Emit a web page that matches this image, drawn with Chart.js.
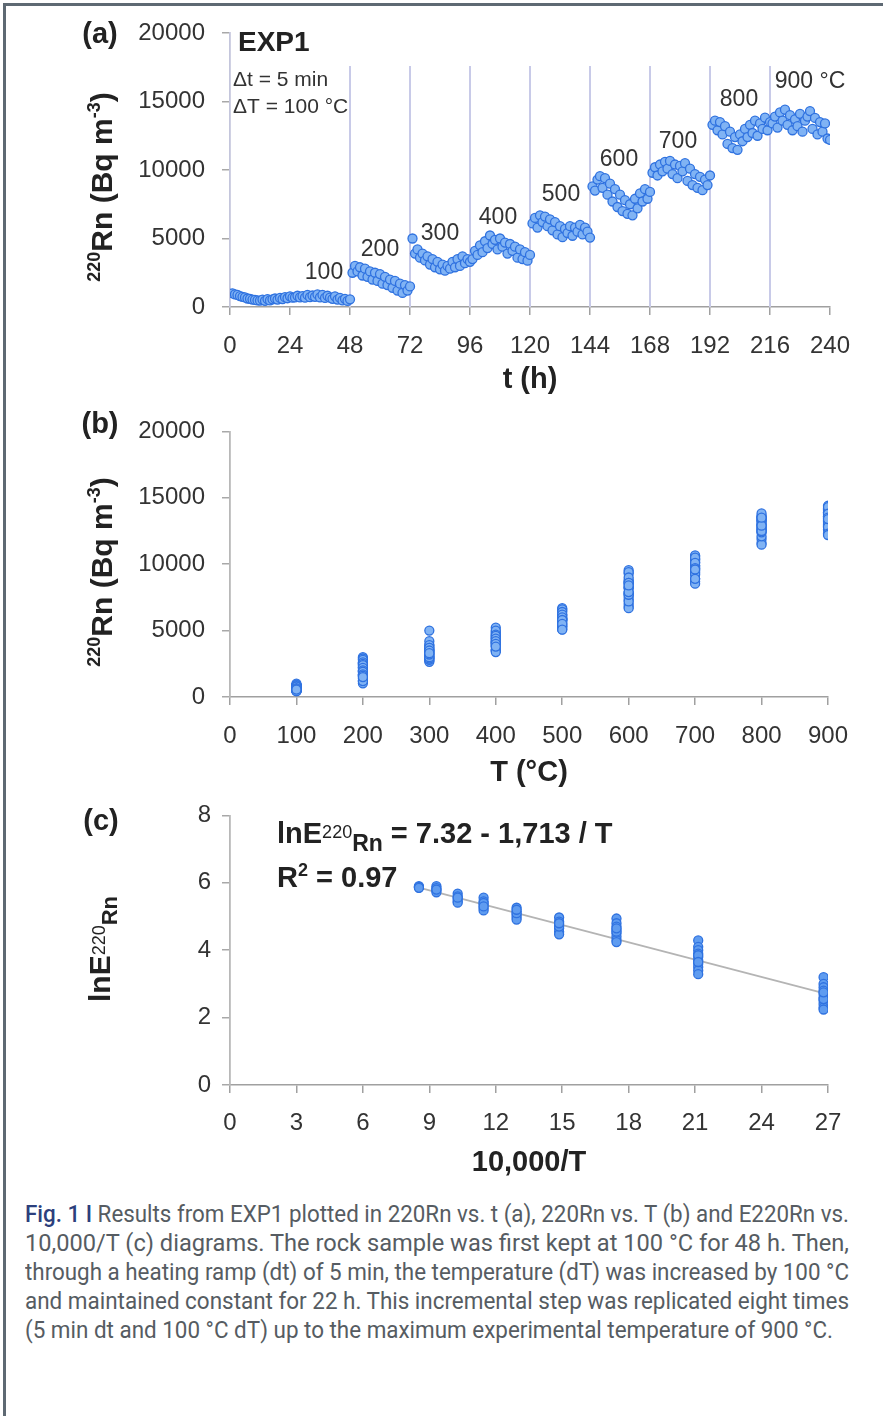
<!DOCTYPE html>
<html>
<head>
<meta charset="utf-8">
<script src="https://cdn.jsdelivr.net/npm/chart.js@4.4.1/dist/chart.umd.min.js"></script>
<style>
  html, body { margin: 0; padding: 0; background: #fff; }
  #page { position: relative; width: 883px; height: 1416px; overflow: hidden; background: #fff; }
  #frame { position: absolute; left: 3px; top: 3px; width: 900px; height: 1430px;
           border-left: 3px solid #5e6973; border-top: 3px solid #5e6973; }
  canvas { position: absolute; left: 0; }
  .cap { position: absolute; left: 25px; font: 24px Roboto, "Noto Sans", sans-serif; color: #565c62;
         white-space: nowrap; line-height: 29px; transform-origin: 0 50%; }
  .cap b { color: #2c3f7d; font-weight: 500; }
</style>
</head>
<body>
<div id="page">
  <div id="frame"></div>
  <canvas id="chartA" width="883" height="400" style="top:0"></canvas>
  <canvas id="chartB" width="883" height="390" style="top:400px"></canvas>
  <canvas id="chartC" width="883" height="400" style="top:790px"></canvas>

  <div class="cap" data-w="824" style="top:1200px"><b>Fig. 1 I</b> Results from EXP1 plotted in 220Rn vs. t (a), 220Rn vs. T (b) and E220Rn vs.</div>
  <div class="cap" data-w="824" style="top:1229px">10,000/T (c) diagrams. The rock sample was first kept at 100 °C for 48 h. Then,</div>
  <div class="cap" data-w="824" style="top:1258px">through a heating ramp (dt) of 5 min, the temperature (dT) was increased by 100 °C</div>
  <div class="cap" data-w="824" style="top:1287px">and maintained constant for 22 h. This incremental step was replicated eight times</div>
  <div class="cap" data-w="808" style="top:1316px">(5 min dt and 100 °C dT) up to the maximum experimental temperature of 900 °C.</div>
</div>

<script>
// heating steps of EXP1
const stepTemps = [100, 200, 300, 400, 500, 600, 700, 800, 900];   // °C
const stepStart = [0, 48, 72, 96, 120, 144, 168, 192, 216];         // h
const readingEvery = 1;                                             // h between readings

// 220Rn (Bq m-3), hourly readings of each step
const rn100 = [1000, 920, 880, 800, 740, 700, 620, 600, 540, 520, 480, 470, 540, 450, 580, 480,
               560, 620, 540, 660, 580, 720, 640, 780, 680, 700, 820, 700, 800, 680, 880, 720,
               840, 740, 920, 700, 880, 660, 820, 680, 600, 780, 540, 660, 480, 600, 440, 560];
const rn200 = [2500, 3000, 2600, 2900, 2300, 2800, 2200, 2600, 2000, 2500, 1900, 2400,
               1700, 2200, 1600, 2000, 1400, 1900, 1200, 1700, 1030, 1600, 1200, 1500];
const rn300 = [5000, 3900, 4200, 3600, 3900, 3400, 3700, 3100, 3500, 2900, 3300, 2750,
               3100, 2650, 3000, 2800, 3300, 2900, 3500, 3000, 3700, 3200, 3500, 3300];
const rn400 = [3500, 4100, 3800, 4500, 4000, 4800, 4300, 5220, 4600, 4900, 4200, 5000,
               4400, 4700, 3900, 4600, 4100, 4400, 3600, 4200, 3500, 4000, 3380, 3800];
const rn500 = [6100, 6500, 5800, 6690, 6200, 6600, 5900, 6400, 5600, 6200, 5300, 5900,
               5100, 5700, 5400, 5900, 5200, 5800, 5500, 6000, 5300, 5800, 5500, 5070];
const rn600 = [8800, 8500, 9300, 9550, 8700, 9400, 8200, 9000, 7700, 8600, 7300, 8200,
               7000, 7800, 6800, 7500, 6690, 7900, 7200, 8300, 7700, 8600, 7900, 8400];
const rn700 = [9800, 10200, 9600, 10400, 9900, 10600, 10100, 10660, 9700, 10400, 9400, 10300,
               9900, 10500, 9200, 10100, 8900, 9700, 8700, 9500, 8530, 9300, 8900, 9600];
const rn800 = [13300, 13600, 12900, 13500, 12600, 13200, 11900, 12800, 11600, 12400, 11470, 12600,
               12100, 13000, 12400, 13300, 12700, 13600, 12500, 13400, 13000, 13820, 12900, 13500];
const rn900 = [13400, 13900, 13100, 14200, 13600, 14400, 13300, 14000, 12900, 13700, 13200, 14100,
               12800, 13600, 13900, 14300, 13000, 13800, 12600, 13500, 12800, 13400, 12300, 12200];
const rnSteps = [rn100, rn200, rn300, rn400, rn500, rn600, rn700, rn800, rn900];

// 10,000/T (K) of each step and lnE220Rn
const invT = [26.80, 21.14, 17.45, 14.86, 12.94, 11.45, 10.28, 9.32, 8.53];
const lnE100 = [3.20, 3.00, 2.90, 2.80, 2.70, 2.60, 2.50, 2.40, 2.30, 2.24, 2.55, 2.75];
const lnE200 = [4.29, 4.10, 4.00, 3.90, 3.80, 3.70, 3.60, 3.50, 3.40, 3.29, 3.85, 3.65];
const lnE300 = [4.94, 4.80, 4.70, 4.60, 4.50, 4.40, 4.30, 4.24, 4.55, 4.65];
const lnE400 = [4.97, 4.85, 4.75, 4.65, 4.55, 4.47, 4.70, 4.80];
const lnE500 = [5.26, 5.15, 5.05, 4.98, 4.91, 5.10, 5.20];
const lnE600 = [5.56, 5.45, 5.35, 5.25, 5.18, 5.40, 5.30];
const lnE700 = [5.68, 5.60, 5.52, 5.45, 5.41, 5.56];
const lnE800 = [5.90, 5.84, 5.78, 5.72, 5.80];
const lnE900 = [5.90, 5.86, 5.88, 5.85];
const lnESteps = [lnE100, lnE200, lnE300, lnE400, lnE500, lnE600, lnE700, lnE800, lnE900];

// fitted line lnE = a - b / T
const fitA = 7.32;
const fitB = 1713;
const fitR2 = 0.97;

Chart.defaults.font.family = '"Liberation Sans", Arial, Helvetica, sans-serif';
Chart.defaults.color = '#333';

const seriesA = [], seriesB = [], seriesC = [];
rnSteps.forEach(function(vals, i) {
  vals.forEach(function(v, k) {
    seriesA.push({x: stepStart[i] + (k + 1) * readingEvery, y: v});
    seriesB.push({x: stepTemps[i], y: v});
  });
});
lnESteps.forEach(function(vals, i) {
  vals.forEach(function(v) { seriesC.push({x: invT[i], y: v}); });
});
const fitLine = [Math.min.apply(null, invT), Math.max.apply(null, invT)].map(function(x) {
  return {x: x, y: fitA - fitB / (10000 / x)};
});

const pointStyle = {
  pointRadius: 4.5,
  pointBorderWidth: 1.3,
  borderColor: '#2f72e0',
  backgroundColor: '#80b3f4',
  pointHoverRadius: 4.5
};

function xAxis(min, max, step, title, pad, height) {
  return {
    type: 'linear', min: min, max: max,
    ticks: {stepSize: step, padding: pad, color: '#333', font: {size: 24}, maxRotation: 0,
            autoSkip: false, callback: function(v) { return String(v); }},
    grid: {drawOnChartArea: false, drawTicks: true, tickLength: 8, color: '#a0a0a0', lineWidth: 1.5},
    border: {color: '#a0a0a0', width: 1.5},
    title: {display: true, text: title, color: '#222', font: {size: 29, weight: 'bold'}, padding: 0},
    afterFit: function(s) { s.height = height; }
  };
}

function yAxis(min, max, step, pad, lineColor) {
  return {
    type: 'linear', min: min, max: max,
    ticks: {stepSize: step, padding: pad, color: '#333', font: {size: 24},
            callback: function(v) { return String(v); }},
    grid: {drawOnChartArea: false, drawTicks: true, tickLength: 8, color: '#a8a8a8', lineWidth: 1.5},
    border: {color: lineColor, width: 1.8},
    afterFit: function(s) { s.width = 230; }
  };
}

// text run helper: parts are [text, font, baseline shift]
function runWidth(ctx, parts) {
  let w = 0;
  parts.forEach(function(p) { ctx.font = p[1]; w += ctx.measureText(p[0]).width; });
  return w;
}
function drawRun(ctx, parts, x, y) {
  ctx.textBaseline = 'alphabetic';
  ctx.textAlign = 'left';
  parts.forEach(function(p) {
    ctx.font = p[1];
    ctx.fillText(p[0], x, y + p[2]);
    x += ctx.measureText(p[0]).width;
  });
}
function drawVertical(ctx, parts, cx, cy) {
  ctx.save();
  ctx.translate(cx, cy);
  ctx.rotate(-Math.PI / 2);
  drawRun(ctx, parts, -runWidth(ctx, parts) / 2, 0);
  ctx.restore();
}
function label(ctx, text, font, x, y, align) {
  ctx.font = font;
  ctx.textAlign = align || 'center';
  ctx.textBaseline = 'middle';
  ctx.fillText(text, x, y);
}

const F = '"Liberation Sans", Arial, sans-serif';
const rnTitle = [['220', 'bold 18px ' + F, -12], ['Rn (Bq m', 'bold 30px ' + F, 0],
                 ['-3', 'bold 18px ' + F, -12], [')', 'bold 30px ' + F, 0]];

// panel (a): 220Rn against time
new Chart('chartA', {
  type: 'scatter',
  data: {datasets: [Object.assign({data: seriesA}, pointStyle)]},
  options: {
    responsive: false, animation: false, devicePixelRatio: 1,
    layout: {padding: {left: 0, right: 53, top: 33, bottom: 3}},
    plugins: {legend: {display: false}, tooltip: {enabled: false}},
    scales: {
      x: xAxis(0, 240, 24, 't (h)', 17, 90),
      y: yAxis(0, 20000, 5000, 17, '#c4c6dc')
    }
  },
  plugins: [{
    id: 'stepMarks',
    beforeDatasetsDraw: function(chart) {
      const ctx = chart.ctx, xs = chart.scales.x, ys = chart.scales.y;
      ctx.save();
      ctx.strokeStyle = '#c8cae8';
      ctx.lineWidth = 2;
      stepStart.slice(1).forEach(function(h) {
        const px = xs.getPixelForValue(h);
        ctx.beginPath();
        ctx.moveTo(px, ys.getPixelForValue(17600));
        ctx.lineTo(px, ys.getPixelForValue(0));
        ctx.stroke();
      });
      ctx.restore();
    },
    afterDraw: function(chart) {
      const ctx = chart.ctx, xs = chart.scales.x, ys = chart.scales.y;
      ctx.save();
      ctx.fillStyle = '#222';
      label(ctx, '(a)', 'bold 29px ' + F, 100, 35);
      drawVertical(ctx, rnTitle, 112, 187);
      label(ctx, 'EXP1', 'bold 28px ' + F, 238, 43, 'left');
      ctx.fillStyle = '#333';
      label(ctx, 'Δt = 5 min', '21px ' + F, 233, 80, 'left');
      label(ctx, 'ΔT = 100 °C', '21px ' + F, 233, 107, 'left');
      const at = [[37.6, 2480], [60, 4160], [84, 5330], [107.2, 6500], [132.4, 8180],
                  [155.6, 10730], [179.2, 12050], [203.6, 15110], [232, 16430]];
      stepTemps.forEach(function(T, i) {
        const txt = i === stepTemps.length - 1 ? T + ' °C' : String(T);
        label(ctx, txt, '23px ' + F, xs.getPixelForValue(at[i][0]), ys.getPixelForValue(at[i][1]));
      });
      ctx.restore();
    }
  }]
});

// panel (b): 220Rn against step temperature
new Chart('chartB', {
  type: 'scatter',
  data: {datasets: [Object.assign({data: seriesB}, pointStyle)]},
  options: {
    responsive: false, animation: false, devicePixelRatio: 1,
    layout: {padding: {left: 0, right: 55, top: 25, bottom: 0}},
    plugins: {legend: {display: false}, tooltip: {enabled: false}},
    scales: {
      x: xAxis(0, 900, 100, 'T (°C)', 17, 93),
      y: yAxis(0, 20000, 5000, 17, '#b8b8b8')
    }
  },
  plugins: [{
    id: 'notesB',
    afterDraw: function(chart) {
      const ctx = chart.ctx;
      ctx.save();
      ctx.fillStyle = '#222';
      label(ctx, '(b)', 'bold 29px ' + F, 100, 25);
      drawVertical(ctx, rnTitle, 112, 172);
      ctx.restore();
    }
  }]
});

// panel (c): lnE220Rn against 10,000/T with the fitted line
new Chart('chartC', {
  type: 'scatter',
  data: {datasets: [
    Object.assign({data: seriesC}, pointStyle, {backgroundColor: '#5f9cf0'}),
    {type: 'line', data: fitLine, borderColor: '#b4b4b4', borderWidth: 1.8, pointRadius: 0, fill: false}
  ]},
  options: {
    responsive: false, animation: false, devicePixelRatio: 1,
    layout: {padding: {left: 0, right: 55, top: 23, bottom: 10}},
    plugins: {legend: {display: false}, tooltip: {enabled: false}},
    scales: {
      x: xAxis(0, 27, 3, '10,000/T', 16, 95),
      y: yAxis(0, 8, 2, 11, '#b8b8b8')
    }
  },
  plugins: [{
    id: 'notesC',
    afterDraw: function(chart) {
      const ctx = chart.ctx;
      ctx.save();
      ctx.fillStyle = '#222';
      label(ctx, '(c)', 'bold 29px ' + F, 101, 32);
      drawVertical(ctx, [['lnE', 'bold 30px ' + F, 0], ['220', '18px ' + F, -5], ['Rn', 'bold 22px ' + F, 7]], 110, 159);
      drawRun(ctx, [['lnE', 'bold 29px ' + F, 0], ['220', '18px ' + F, -5], ['Rn', 'bold 23px ' + F, 8],
                    [' = ' + fitA.toFixed(2) + ' - ' + fitB.toLocaleString('en-US') + ' / T', 'bold 29px ' + F, 0]], 277, 53);
      drawRun(ctx, [['R', 'bold 29px ' + F, 0], ['2', 'bold 18px ' + F, -11],
                    [' = ' + fitR2.toFixed(2), 'bold 29px ' + F, 0]], 277, 97);
      ctx.restore();
    }
  }]
});

// caption lines stretched to the column width
document.querySelectorAll('.cap').forEach(function(el) {
  const w = el.getBoundingClientRect().width;
  el.style.transform = 'scaleX(' + (parseFloat(el.dataset.w) / w) + ')';
});
</script>
</body>
</html>
